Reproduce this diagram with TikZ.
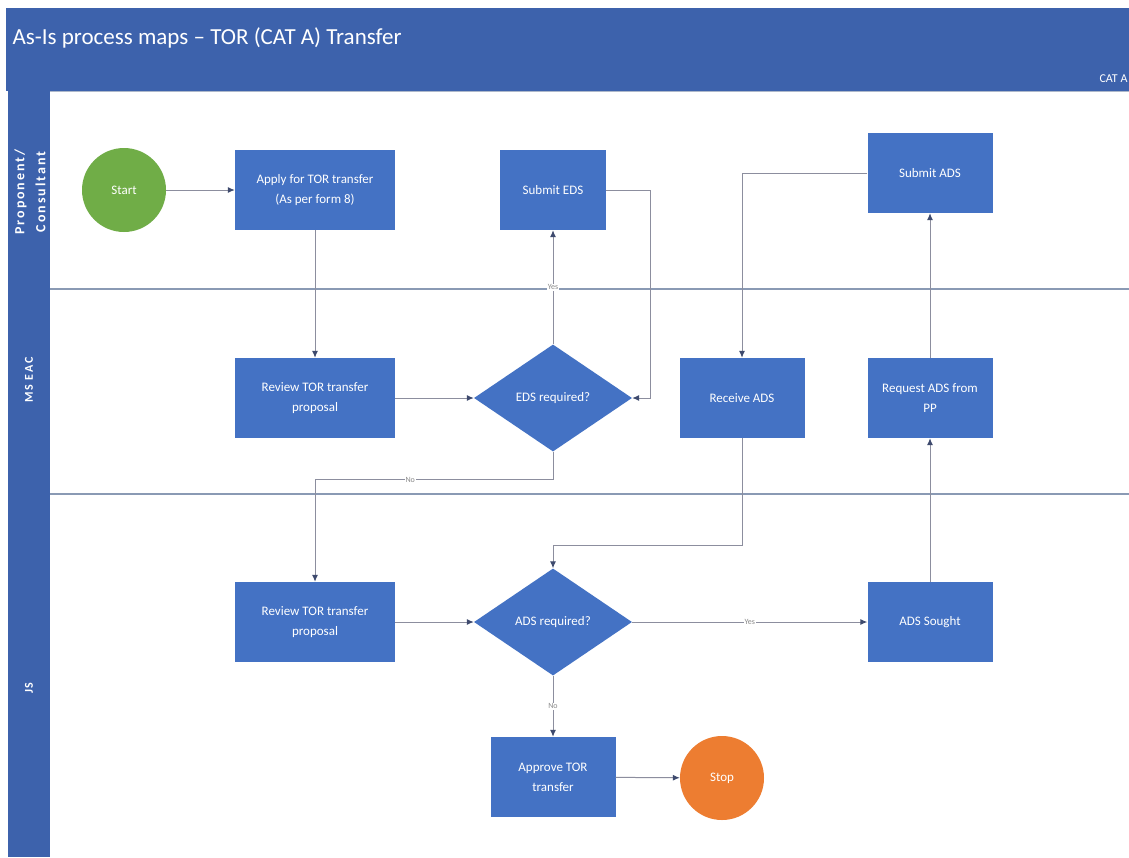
\documentclass[tikz,border=0pt]{standalone}
\usepackage{fontspec}
\setmainfont{Carlito}
\newfontfamily\lanefont[LetterSpace=14]{Carlito}
\usetikzlibrary{shapes.geometric,arrows.meta}

\definecolor{barblue}{HTML}{3D62AC}
\definecolor{boxblue}{HTML}{4472C4}
\definecolor{startgreen}{HTML}{70AD47}
\definecolor{stoporange}{HTML}{ED7D31}
\definecolor{lanegray}{HTML}{8A9AB4}
\definecolor{wiregray}{HTML}{8C8E9E}
\definecolor{tipnavy}{HTML}{3E4A6E}
\definecolor{lblgray}{HTML}{8A8A8A}

\tikzset{
  boxfont/.style={font=\fontsize{13}{20}\selectfont},
  stepbox/.style={draw=none, fill=boxblue, text=white, minimum width=#1, minimum height=80pt,
    inner sep=2pt, align=center, boxfont},
  stepbox/.default=160pt,
  decision/.style={diamond, draw=none, fill=boxblue, text=white, minimum width=158pt,
    minimum height=107pt, inner sep=0pt, align=center, boxfont},
  terminal/.style={circle, draw=none, fill=#1, text=white, minimum size=84pt, inner sep=0pt, boxfont},
  flow/.style={draw=wiregray, line width=1pt, -{Latex[length=7pt,width=6pt,color=tipnavy]}},
  lbl/.style={fill=white, text=lblgray, inner sep=1pt, font=\fontsize{8}{9}\selectfont},
  lanename/.style={rotate=90, text=white, align=center},
}

\begin{document}
\begin{tikzpicture}[x=1pt, y=-1pt]
  \useasboundingbox (0,0) rectangle (1129,857);
  \fill[white] (0,0) rectangle (1129,857);

  % title band and lane header strip
  \fill[barblue] (6,8) rectangle (1129,91);
  \fill[barblue] (8,91) rectangle (50,857);
  \draw[lanegray!70, line width=0.8pt] (50,91.5) -- (1129,91.5);
  \node[anchor=west, text=white, font=\fontsize{23}{26}\selectfont] (title) at (9,38)
    {As-Is process maps -- TOR (CAT A) Transfer};
  \node[anchor=east, text=white, font=\fontsize{12}{13}\selectfont] (cat) at (1131,79) {CAT A};

  % swimlane separators
  \draw[lanegray, line width=2pt] (50,289) -- (1129,289);
  \draw[lanegray, line width=2pt] (50,494) -- (1129,494);
  \node[lanename, font=\lanefont\bfseries\fontsize{14}{21}\selectfont] (lane1) at (30,192)
    {Proponent/\\Consultant};
  \node[lanename, font=\lanefont\bfseries\fontsize{12}{13}\selectfont] (lane2) at (29,380) {MS EAC};
  \node[lanename, font=\lanefont\bfseries\fontsize{12}{13}\selectfont] (lane3) at (29,688) {JS};

  % Proponent / Consultant lane
  \node[terminal=startgreen] (start) at (124,190) {Start};
  \node[stepbox] (apply) at (315,190) {Apply for TOR transfer\\(As per form 8)};
  \node[stepbox=106pt] (subeds) at (553,190) {Submit EDS};
  \node[stepbox=125pt] (subads) at (930,173) {Submit ADS};

  % MS EAC lane
  \node[stepbox] (rev1) at (315,398) {Review TOR transfer\\proposal};
  \node[decision] (eds) at (553,398) {EDS required?};
  \node[stepbox=125pt] (recv) at (742,398) {Receive ADS};
  \node[stepbox=125pt] (req) at (930,398) {Request ADS from\\PP};

  % JS lane
  \node[stepbox] (rev2) at (315,622) {Review TOR transfer\\proposal};
  \node[decision] (ads) at (553,622) {ADS required?};
  \node[stepbox=125pt] (sought) at (930,622) {ADS Sought};
  \node[stepbox=125pt] (approve) at (553,777) {Approve TOR\\transfer};
  \node[terminal=stoporange] (stop) at (722,778) {Stop};

  % connectors
  \draw[flow] (start) -- (apply);
  \draw[flow] (apply) -- (rev1);
  \draw[flow] (rev1) -- (eds);
  \draw[flow] (eds) -- node[lbl, pos=0.5] {Yes} (subeds);
  \draw[flow] (subeds.east) -- ++(44,0) |- (eds.east);
  \draw[flow] (eds.south) -- ++(0,28) -| node[lbl, pos=0.3] {No} (rev2.north);
  \draw[flow] (rev2) -- (ads);
  \draw[flow] (ads) -- node[lbl] {Yes} (sought);
  \draw[flow] (sought) -- (req);
  \draw[flow] (req) -- (subads);
  \draw[flow] (subads.west) -| (recv.north);
  \draw[flow] (recv.south) -- ++(0,107) -| (ads.north);
  \draw[flow] (ads) -- node[lbl] {No} (approve);
  \draw[flow] (approve) -- (stop);
\end{tikzpicture}
\end{document}
